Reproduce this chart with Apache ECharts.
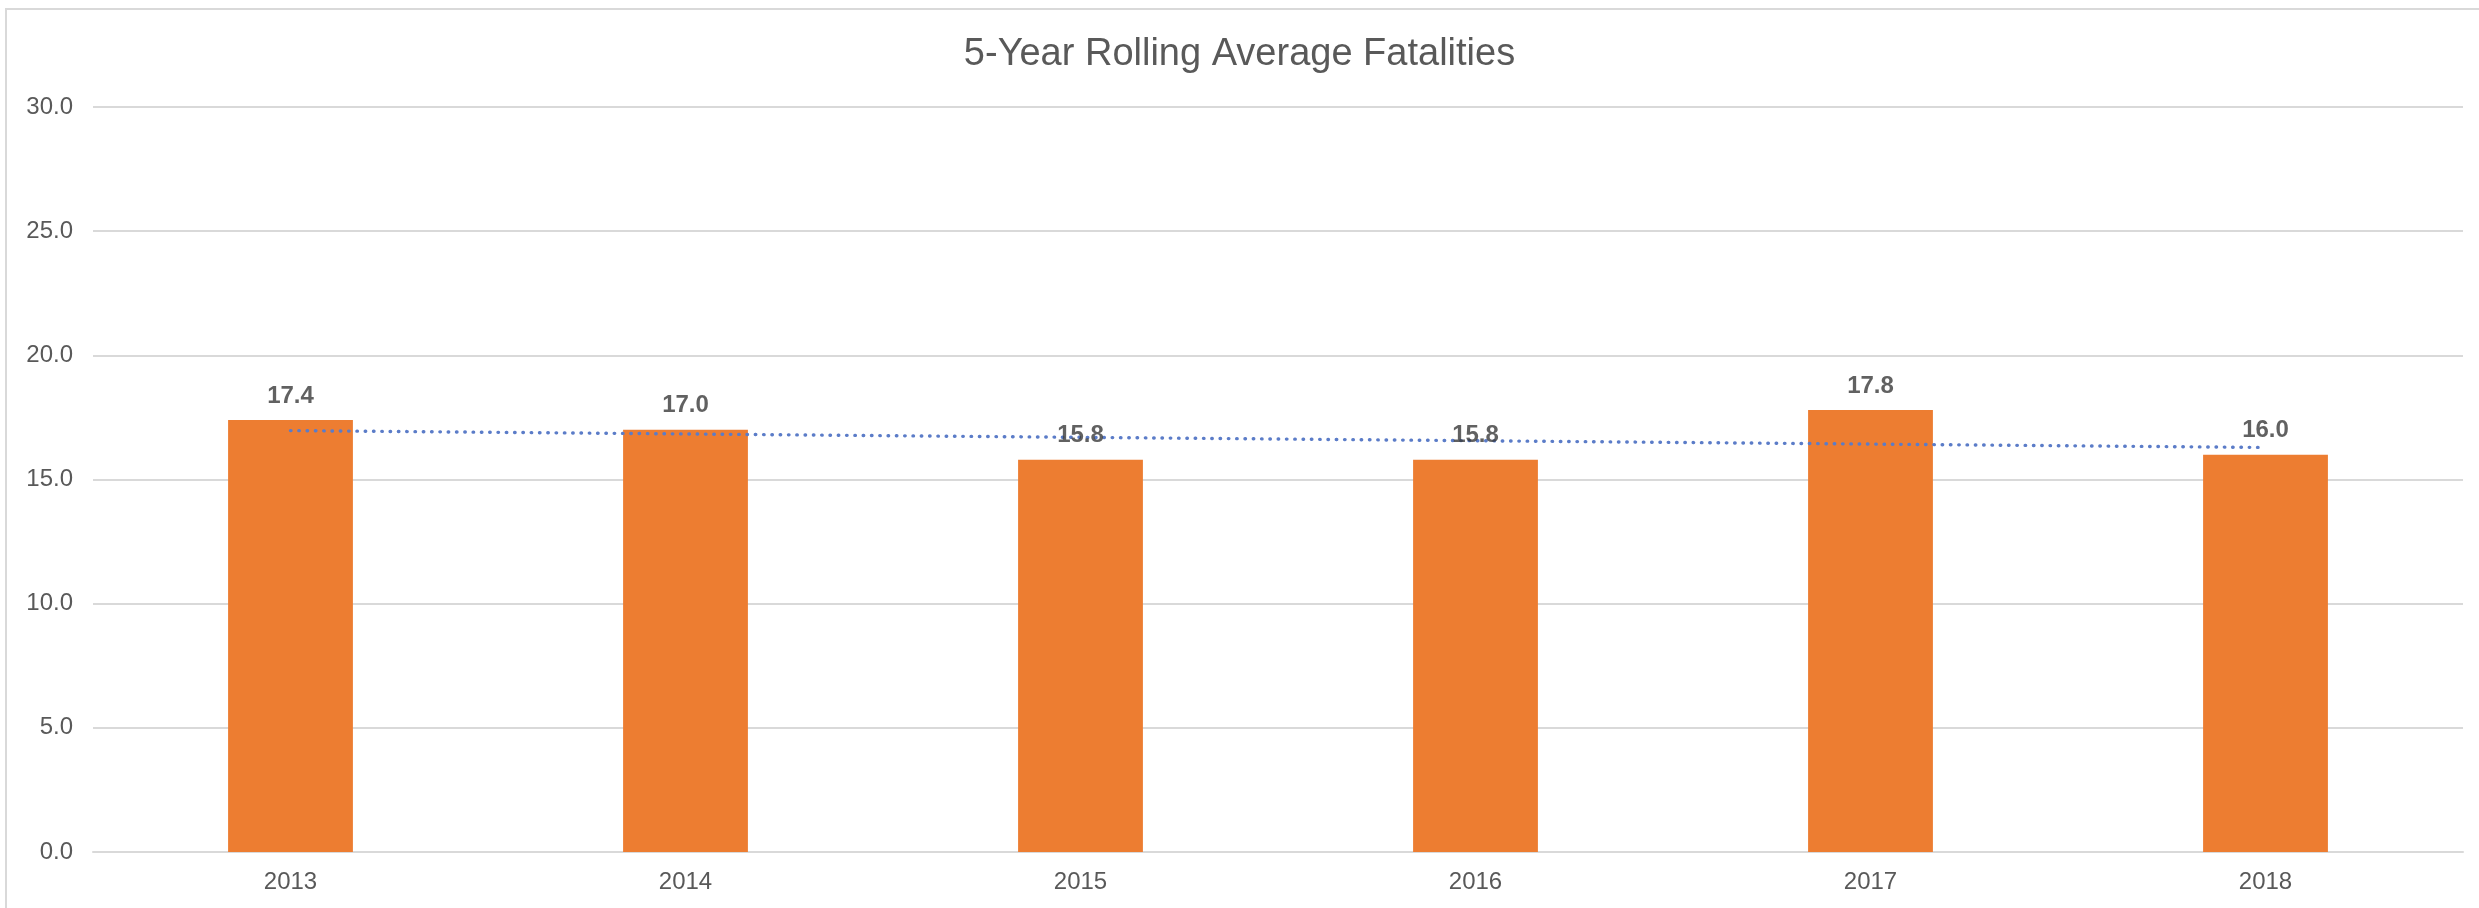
<!DOCTYPE html>
<html>
<head>
<meta charset="utf-8">
<script src="https://cdn.jsdelivr.net/npm/echarts@6/dist/echarts.min.js"></script>
<style>
  html, body { margin: 0; padding: 0; background: #fff; overflow: hidden; }
  #frame {
    position: absolute; left: 5px; top: 8px;
    width: 2600px; height: 1000px;
    border: 2px solid #d9d9d9; box-sizing: border-box;
  }
  #chart { position: absolute; left: 0; top: 0; width: 2479px; height: 908px; }
</style>
</head>
<body>
<div id="frame"></div>
<div id="chart"></div>
<script>
// data
const years = ['2013', '2014', '2015', '2016', '2017', '2018']
const fatalities = [17.4, 17.0, 15.8, 15.8, 17.8, 16.0]
// linear trendline endpoints as drawn (first and last year only)
const trendline = [16.97, null, null, null, null, 16.29]
const yTicks = { min: 0, max: 30, interval: 5 }

const FONT = 'Liberation Sans, Arial, sans-serif'
const GRID_GRAY = '#d9d9d9'

const chart = echarts.init(document.getElementById('chart'), null, { renderer: 'canvas' })

chart.setOption({
  backgroundColor: 'transparent',
  animation: false,
  title: {
    text: '5-Year Rolling Average Fatalities',
    left: 'center',
    top: 31,
    textStyle: { color: '#595959', fontSize: 38, fontWeight: 'normal', fontFamily: FONT },
  },
  grid: { left: 93, right: 16, top: 107, bottom: 56, containLabel: false },
  xAxis: {
    type: 'category',
    data: years,
    axisLine: { lineStyle: { color: GRID_GRAY, width: 2 } },
    axisTick: { show: false },
    axisLabel: { color: '#595959', fontSize: 24, fontFamily: FONT, margin: 18 },
  },
  yAxis: {
    type: 'value',
    min: yTicks.min,
    max: yTicks.max,
    interval: yTicks.interval,
    axisLine: { show: false },
    axisTick: { show: false },
    axisLabel: {
      color: '#595959', fontSize: 24, fontFamily: FONT, margin: 20,
      formatter: v => v.toFixed(1),
    },
    splitLine: { lineStyle: { color: GRID_GRAY, width: 2 } },
  },
  series: [
    {
      name: 'Fatalities',
      type: 'bar',
      data: fatalities,
      barWidth: '31.6%',
      itemStyle: { color: '#ED7D31' },
      z: 2,
    },
    {
      name: 'Trend',
      type: 'line',
      data: trendline,
      connectNulls: true,
      symbol: 'none',
      lineStyle: { color: '#5b7cc8', width: 3.4, type: [0.5, 7.8], cap: 'round' },
      z: 3,
    },
    {
      // value labels drawn above the dotted trendline
      name: 'Labels',
      type: 'scatter',
      data: fatalities,
      symbolSize: 0,
      silent: true,
      label: {
        show: true,
        position: 'top',
        distance: 12,
        color: '#3a3a3a',
        fontSize: 24,
        fontWeight: 'bold',
        fontFamily: FONT,
        formatter: p => p.value.toFixed(1),
      },
      z: 4,
    },
  ],
})
</script>
</body>
</html>
